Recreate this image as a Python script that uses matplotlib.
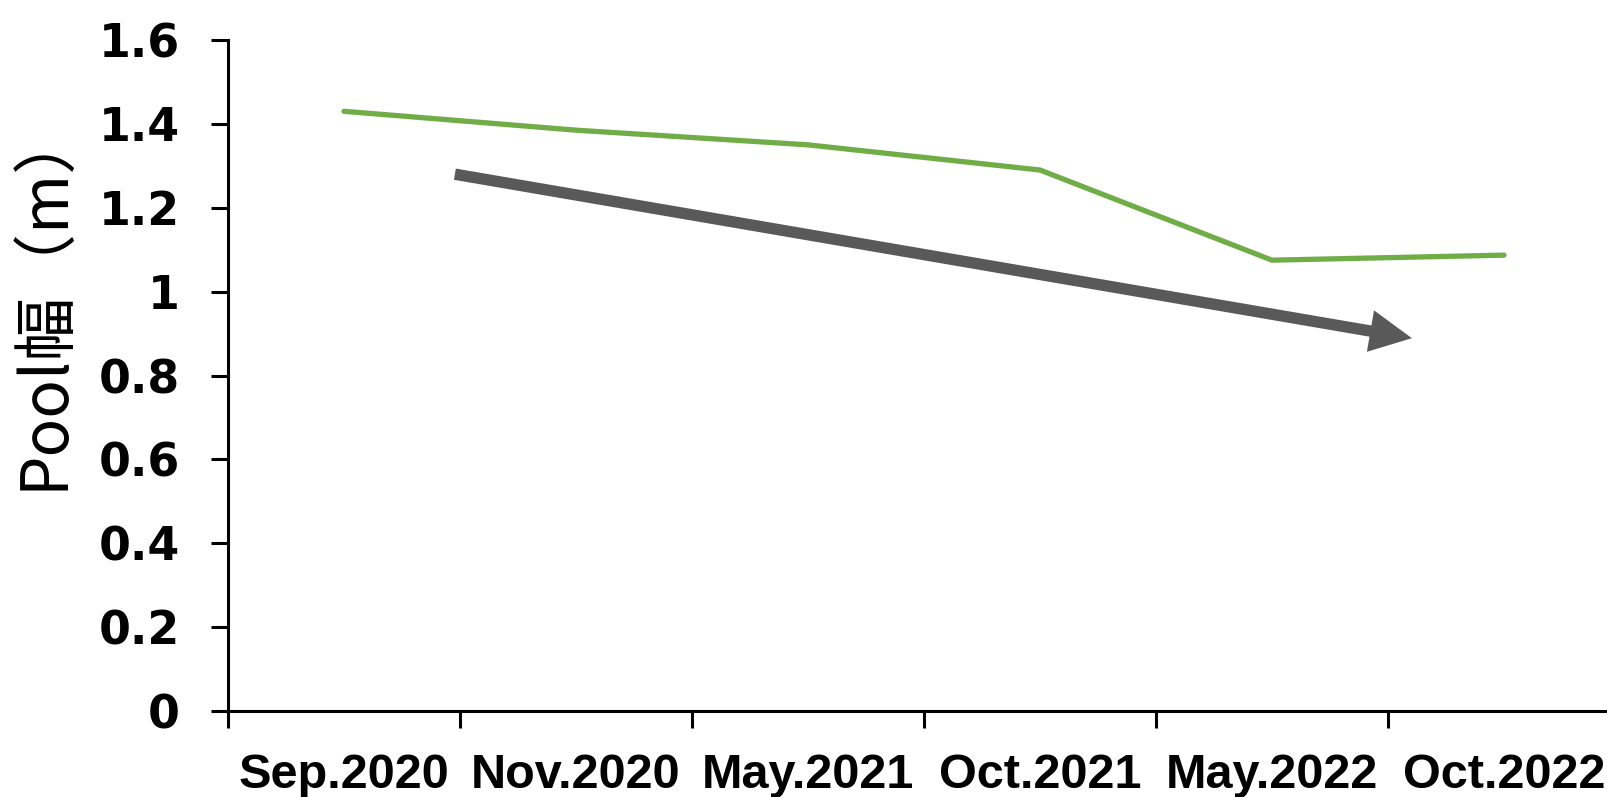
import matplotlib
matplotlib.use("Agg")
import matplotlib.pyplot as plt
from matplotlib.patches import FancyArrowPatch
from matplotlib.ticker import FixedLocator, NullFormatter

# Survey dates and measured pool width (m)
dates = ["Sep.2020", "Nov.2020", "May.2021", "Oct.2021", "May.2022", "Oct.2022"]
pool_width = [1.43, 1.385, 1.35, 1.29, 1.075, 1.087]
y_ticks = [0, 0.2, 0.4, 0.6, 0.8, 1, 1.2, 1.4, 1.6]
y_tick_labels = ["0", "0.2", "0.4", "0.6", "0.8", "1", "1.2", "1.4", "1.6"]

# Trend arrow endpoints (category index, value)
trend_start = (0.478, 1.280)
trend_end = (4.603, 0.889)

W, H, DPI = 1608, 797, 100
fig = plt.figure(figsize=(W / DPI, H / DPI), dpi=DPI)
ax = fig.add_axes([228 / W, 86 / H, 1392 / W, 671 / H])

x = list(range(len(dates)))
ax.plot(x, pool_width, color="#70AD47", lw=3.8, solid_capstyle="round",
        solid_joinstyle="miter", zorder=3)

arrow = FancyArrowPatch(trend_start, trend_end,
                        arrowstyle="-|>,head_length=17,head_width=8.5",
                        mutation_scale=1, lw=8.2, color="#595959",
                        shrinkA=0, shrinkB=0, capstyle="butt",
                        joinstyle="miter", zorder=4)
ax.add_patch(arrow)

ax.set_xlim(-0.5, len(dates) - 0.5)
ax.set_ylim(0, 1.6)

for side in ("top", "right"):
    ax.spines[side].set_visible(False)
for side in ("left", "bottom"):
    ax.spines[side].set_linewidth(2.2)
    ax.spines[side].set_color("black")

# category boundaries carry the tick marks, centres carry the labels
ax.xaxis.set_major_locator(FixedLocator([i - 0.5 for i in range(len(dates) + 1)]))
ax.xaxis.set_major_formatter(NullFormatter())
ax.xaxis.set_minor_locator(FixedLocator(x))
ax.set_xticklabels(dates, minor=True)
ax.tick_params(axis="x", which="major", direction="out", length=12, width=2.2)
ax.tick_params(axis="x", which="minor", length=0, pad=30)
for lab in ax.get_xticklabels(minor=True):
    lab.set_fontfamily("Liberation Sans")
    lab.set_fontweight("bold")
    lab.set_fontsize(35)

ax.set_yticks(y_ticks)
ax.set_yticklabels(y_tick_labels)
ax.tick_params(axis="y", direction="out", length=12.5, width=2.2, pad=22)
for lab in ax.get_yticklabels():
    lab.set_fontfamily("DejaVu Sans")
    lab.set_fontweight("bold")
    lab.set_fontsize(33)

ax.set_ylabel("Pool幅（m）", family=["Noto Sans CJK JP", "DejaVu Sans"],
              fontsize=46)
ax.yaxis.set_label_coords(-0.108, 0.617)

fig.savefig("out.png", dpi=DPI, facecolor="white")
